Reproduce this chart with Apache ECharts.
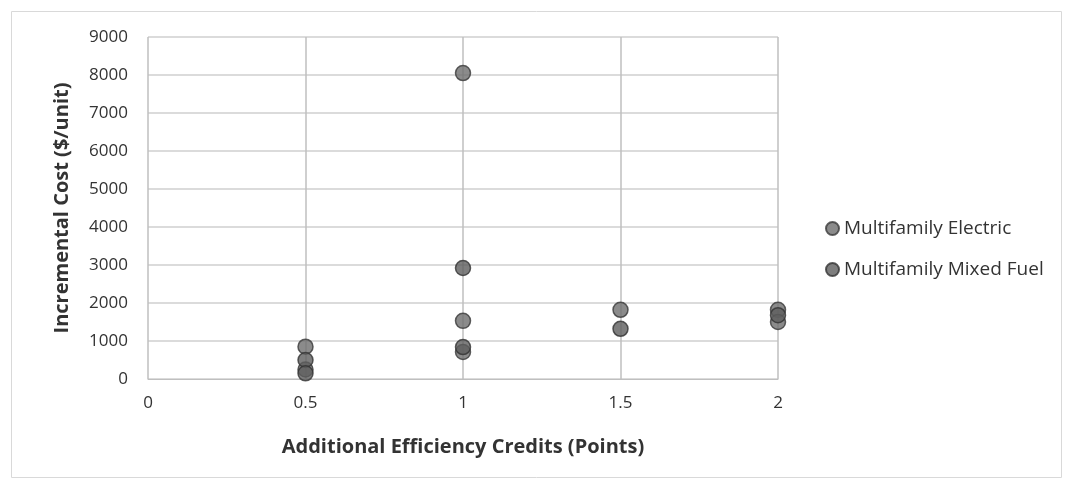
<!DOCTYPE html>
<html><head><meta charset="utf-8">
<script src="https://cdn.jsdelivr.net/npm/echarts@6/dist/echarts.min.js"></script>
<style>html,body{margin:0;padding:0;background:#fff}#c{width:1073px;height:489px}</style>
</head><body><div id="c"></div>
<script>
const seriesNames = ['Multifamily Electric', 'Multifamily Mixed Fuel'];
const electricPoints = [[0.5, 850], [0.5, 250], [1, 8050], [1, 1530], [1, 710], [1.5, 1820], [2, 1820], [2, 1500]];
const mixedFuelPoints = [[0.5, 500], [0.5, 150], [1, 2920], [1, 840], [1.5, 1320], [2, 1680]];
const xTicks = [0, 0.5, 1, 1.5, 2];
const yMax = 9000, yStep = 1000;
const xTitle = 'Additional Efficiency Credits (Points)';
const yTitle = 'Incremental Cost ($/unit)';

const chart = echarts.init(document.getElementById('c'));
const font = 'Open Sans';
chart.setOption({
  animation: false,
  textStyle: { fontFamily: font },
  graphic: [{ type: 'rect', shape: { x: 11.5, y: 11.5, width: 1050, height: 466 }, style: { fill: 'none', stroke: '#d9d9d9', lineWidth: 1 } }],
  grid: { left: 148, right: 295, top: 37, bottom: 110 },
  xAxis: {
    type: 'value', min: xTicks[0], max: xTicks[xTicks.length - 1], interval: 0.5,
    name: xTitle, nameLocation: 'middle', nameGap: 58,
    nameTextStyle: { fontSize: 20, fontWeight: 'bold', color: '#333', fontFamily: font },
    axisLine: { lineStyle: { color: '#bfbfbf' } }, axisTick: { show: false },
    axisLabel: { fontSize: 17, color: '#333', margin: 16, formatter: v => String(v) },
    splitLine: { show: true, lineStyle: { color: '#bfbfbf', width: 1.5 } }
  },
  yAxis: {
    type: 'value', min: 0, max: yMax, interval: yStep,
    name: yTitle, nameLocation: 'middle', nameGap: 76,
    nameTextStyle: { fontSize: 20, fontWeight: 'bold', color: '#333', fontFamily: font },
    axisLine: { show: false }, axisTick: { show: false },
    axisLabel: { fontSize: 17, color: '#333', margin: 20, formatter: v => String(v) },
    splitLine: { lineStyle: { color: '#cfcfcf', width: 1.5 } }
  },
  legend: {
    orient: 'vertical', left: 820, top: 214, itemGap: 22,
    icon: 'circle', itemWidth: 13, itemHeight: 13,
    textStyle: { fontSize: 19, color: '#333', fontFamily: font },
    data: seriesNames
  },
  series: [
    { name: seriesNames[0], type: 'scatter', data: electricPoints, symbolSize: 15,
      itemStyle: { color: '#6e6e6e', borderColor: '#3a3a3a', borderWidth: 1.5 } },
    { name: seriesNames[1], type: 'scatter', data: mixedFuelPoints, symbolSize: 15,
      itemStyle: { color: '#5e5e5e', borderColor: '#333', borderWidth: 1.5 } }
  ]
});
</script></body></html>
